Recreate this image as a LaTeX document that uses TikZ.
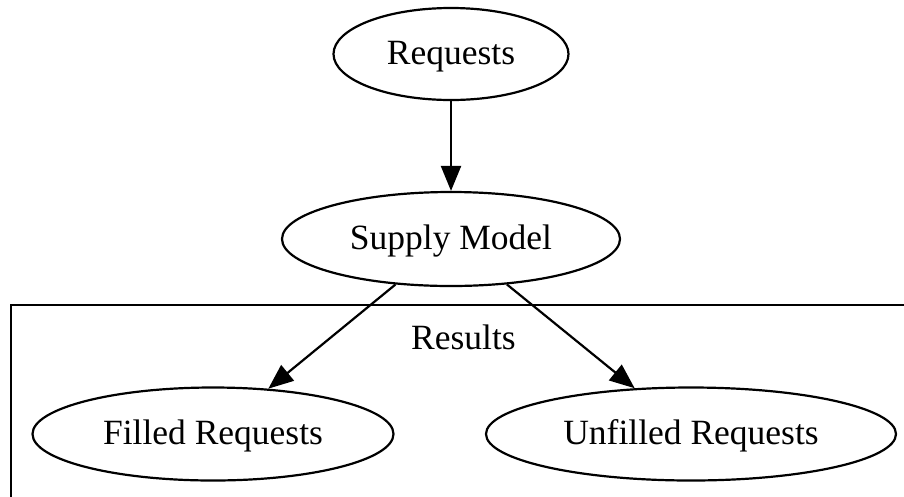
\documentclass[tikz,border=0pt]{standalone}
\usepackage{fontspec}
\setmainfont{Liberation Serif}
\usetikzlibrary{shapes.geometric,arrows.meta}
\tikzset{
  label text/.style={inner sep=0pt, text height=20.5pt, text depth=0pt, font=\fontsize{35.5}{38}\selectfont},
  stage/.style={label text, ellipse, draw, line width=2.2pt},
  flow/.style={line width=2.2pt, -{Triangle[length=25pt,width=20pt]}},
}
\begin{document}
\begin{tikzpicture}[x=1pt,y=-1pt]
  \clip (0,0) rectangle (904,496);
  % cluster frame for the results
  \draw[line width=2.2pt] (11,305) rectangle (920,520);
  \node[label text] (results) at (463.5,339) {Results};

  \node[stage, minimum width=235pt, minimum height=92pt] (req) at (451,54) {Requests};
  \node[stage, minimum width=338pt, minimum height=94pt] (supply) at (451,239) {Supply Model};
  \node[stage, minimum width=361pt, minimum height=93pt] (filled) at (213,434) {Filled Requests};
  \node[stage, minimum width=410pt, minimum height=93pt] (unfilled) at (691,434) {Unfilled Requests};

  \draw[flow] (req) -- (supply);
  \draw[flow] (supply) -- (filled);
  \draw[flow] (supply) -- (unfilled);
\end{tikzpicture}
\end{document}
